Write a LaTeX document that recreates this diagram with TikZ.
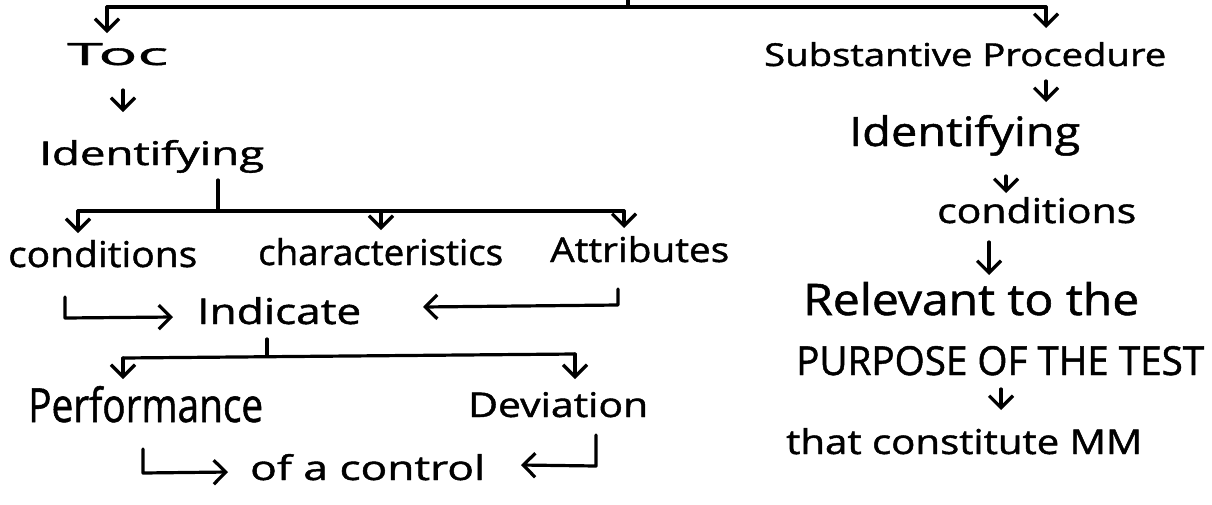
\documentclass[tikz,border=0pt]{standalone}
\usepackage{fontspec}
\setmainfont[FakeBold=1.2]{Open Sans}
\usetikzlibrary{arrows.meta}
% hand-lettered label: text squeezed into a given width and height
\newcommand{\hand}[3]{\resizebox{#1pt}{#2pt}{#3}}
\begin{document}
\begin{tikzpicture}[x=1pt,y=-1pt,
  lbl/.style={inner sep=0pt, anchor=base west},
  wire/.style={line width=3.2pt, line cap=round, line join=round},
  arr/.style={wire, -{Straight Barb[length=12pt,width=24pt,line width=3.2pt]}}]
\useasboundingbox (0,0) rectangle (1212,504);

% ---- labels ----
\node[lbl] (toc)   at (67,65)   {\hand{101}{22}{Toc}};
\node[lbl] (idl)   at (39,165)  {\hand{225}{25}{Identifying}};
\node[lbl] (condl) at (8,267)   {\hand{189}{27}{conditions}};
\node[lbl] (chars) at (258,265) {\hand{245}{27}{characteristics}};
\node[lbl] (attr)  at (550,262) {\hand{179}{26}{Attributes}};
\node[lbl] (ind)   at (197,324) {\hand{164}{27}{Indicate}};
\node[lbl] (perf)  at (28,422)  {\hand{235}{36}{Performance}};
\node[lbl] (dev)   at (468,417) {\hand{180}{25}{Deviation}};
\node[lbl] (ctrl)  at (250,480) {\hand{235}{26}{of a control}};
\node[lbl] (subp)  at (764,66)  {\hand{402}{24}{Substantive Procedure}};
\node[lbl] (idr)   at (849,146) {\hand{231}{31}{Identifying}};
\node[lbl] (condr) at (937,223) {\hand{199}{26}{conditions}};
\node[lbl] (rel)   at (803,315) {\hand{336}{33}{Relevant to the}};
\node[lbl] (purp)  at (796,375) {\hand{408}{29}{PURPOSE OF THE TEST}};
\node[lbl] (mm)    at (786,454) {\hand{356}{26}{that constitute MM}};

% ---- top split ----
\coordinate (root) at (628,0);
\coordinate (busT) at (628,7);
\coordinate (busL) at (107,7);
\coordinate (busR) at (1046,7);
\coordinate (tocIn) at (107,33);
\coordinate (subIn) at (1046,28);
\draw[wire] (root) -- (busT);
\draw[wire] (busL) -- (busR);
\draw[arr] (busL) -- (tocIn);
\draw[arr] (busR) -- (subIn);

% ---- left column ----
\coordinate (tocOut) at (123,90);
\coordinate (idlIn) at (123,112);
\draw[arr] (tocOut) -- (idlIn);

\coordinate (idlOut) at (218,180);
\coordinate (b2T) at (218,211);
\coordinate (b2L) at (78,211);
\coordinate (b2M) at (381,211);
\coordinate (b2R) at (624,211);
\coordinate (condlIn) at (78,233);
\coordinate (charsIn) at (381,230);
\coordinate (attrIn) at (624,228);
\draw[wire] (idlOut) -- (b2T);
\draw[wire] (b2L) -- (b2R);
\draw[arr] (b2L) -- (condlIn);
\draw[arr] (b2M) -- (charsIn);
\draw[arr] (b2R) -- (attrIn);

\coordinate (condlOut) at (65,297);
\coordinate (indL) at (173,317);
\draw[arr] (condlOut) -- (65,318) -- (indL);
\coordinate (attrOut) at (618,289);
\coordinate (indR) at (423,307);
\draw[arr] (attrOut) -- (618,305) -- (indR);

\coordinate (indOut) at (267,339);
\coordinate (b3T) at (267,356);
\coordinate (b3L) at (123,358);
\coordinate (b3R) at (575,354);
\coordinate (perfIn) at (123,379);
\coordinate (devIn) at (575,379);
\draw[wire] (indOut) -- (b3T);
\draw[wire] (b3L) -- (b3R);
\draw[arr] (b3L) -- (perfIn);
\draw[arr] (b3R) -- (devIn);

\coordinate (perfOut) at (143,449);
\coordinate (ctrlL) at (228,472);
\draw[arr] (perfOut) -- (143,473) -- (ctrlL);
\coordinate (devOut) at (596,435);
\coordinate (ctrlR) at (521,465);
\draw[arr] (devOut) -- (596,466) -- (ctrlR);

% ---- right column ----
\coordinate (subOut) at (1046,81);
\coordinate (idrIn) at (1046,102);
\draw[arr] (subOut) -- (idrIn);
\coordinate (idrOut) at (1006,176);
\coordinate (condrIn) at (1006,193);
\draw[arr] (idrOut) -- (condrIn);
\coordinate (condrOut) at (989,242);
\coordinate (relIn) at (989,275);
\draw[arr] (condrOut) -- (relIn);
\coordinate (purpOut) at (1001,389);
\coordinate (mmIn) at (1001,410);
\draw[arr] (purpOut) -- (mmIn);
\end{tikzpicture}
\end{document}
